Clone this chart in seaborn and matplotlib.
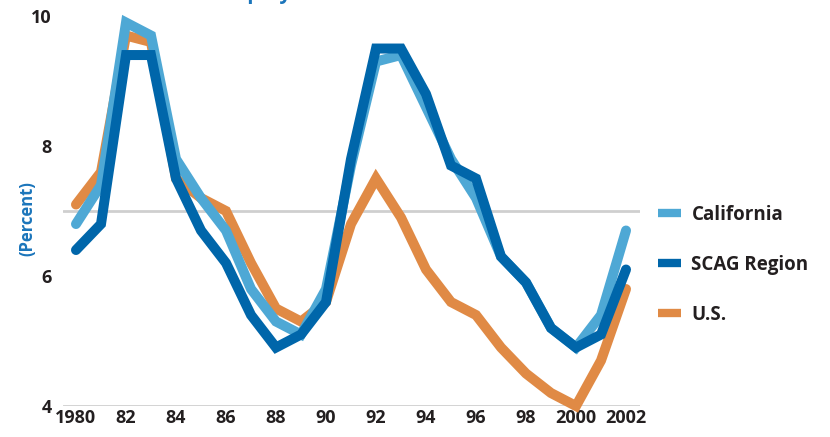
import pandas as pd
import seaborn as sns
import matplotlib.pyplot as plt

# unemployment rate, percent
years = list(range(1980, 2003))
california = [6.8, 7.4, 9.9, 9.7, 7.8, 7.2, 6.7, 5.8, 5.3, 5.1, 5.8, 7.7,
              9.3, 9.4, 8.6, 7.8, 7.2, 6.3, 5.9, 5.2, 4.9, 5.4, 6.7]
scag = [6.4, 6.8, 9.4, 9.4, 7.5, 6.7, 6.2, 5.4, 4.9, 5.1, 5.6, 7.8,
        9.5, 9.5, 8.8, 7.7, 7.5, 6.3, 5.9, 5.2, 4.9, 5.1, 6.1]
us = [7.1, 7.6, 9.7, 9.6, 7.5, 7.2, 7.0, 6.2, 5.5, 5.3, 5.6, 6.8,
      7.5, 6.9, 6.1, 5.6, 5.4, 4.9, 4.5, 4.2, 4.0, 4.7, 5.8]
series_names = ["California", "SCAG Region", "U.S."]
tick_years = list(range(1980, 2003, 2))
tick_labels = ["1980", "82", "84", "86", "88", "90", "92", "94", "96", "98", "2000", "2002"]

df = pd.concat([
    pd.DataFrame({"year": years, "rate": california, "area": "California"}),
    pd.DataFrame({"year": years, "rate": scag, "area": "SCAG Region"}),
    pd.DataFrame({"year": years, "rate": us, "area": "U.S."}),
])

colors = {"California": "#4ea8d5", "SCAG Region": "#0066aa", "U.S.": "#e08a45"}
ink = "#231f20"

sns.set_theme(style="white")
plt.rcParams["font.family"] = ["Open Sans", "DejaVu Sans"]

fig = plt.figure(figsize=(8.3, 4.37), dpi=100)
ax = fig.add_axes([0.0759, 0.0709, 0.6952, 0.8924])

for y in [4, 7]:
    ax.axhline(y, color="#cfcfcf", lw=2, zorder=0)

# draw U.S. first so the two blue lines sit on top
sns.lineplot(data=df, x="year", y="rate", hue="area",
             hue_order=["U.S.", "California", "SCAG Region"],
             palette=colors, lw=7.2, ax=ax, legend=False)
for line in ax.get_lines()[2:]:
    line.set_solid_joinstyle("miter")
    line.set_solid_capstyle("round")
    line.set_clip_on(False)

ax.set_xlim(1979.48, 2002.56)
ax.set_ylim(4, 10)
ax.set_xticks(tick_years)
ax.set_xticklabels(tick_labels)
ax.set_yticks([4, 6, 8, 10])
ax.tick_params(axis="both", length=0, labelsize=13, labelcolor=ink)
ax.tick_params(axis="x", pad=2)
ax.tick_params(axis="y", pad=8)
for lab in ax.get_xticklabels() + ax.get_yticklabels():
    lab.set_fontweight("bold")
ax.set_xlabel("")
ax.set_ylabel("")
sns.despine(ax=ax, left=True, bottom=True)

fig.text(0.033, 0.50, "(Percent)", rotation=90, ha="center", va="center",
         fontsize=12, fontweight="bold", color="#1b75bb")
fig.text(0.223, 1.003, "Unemployment Rate", ha="left", va="baseline",
         fontsize=15, fontweight="bold", color="#1b75bb")

handles = [plt.Line2D([0], [0], color=colors[n], lw=6, solid_capstyle="butt")
           for n in series_names]
leg = fig.legend(handles, series_names, loc="center left",
                 bbox_to_anchor=(0.772, 0.394), frameon=False,
                 handlelength=1.25, handletextpad=0.55, labelspacing=1.6,
                 prop={"size": 13.5, "weight": "bold"})
for t in leg.get_texts():
    t.set_color(ink)

fig.savefig("out.png", dpi=100)
